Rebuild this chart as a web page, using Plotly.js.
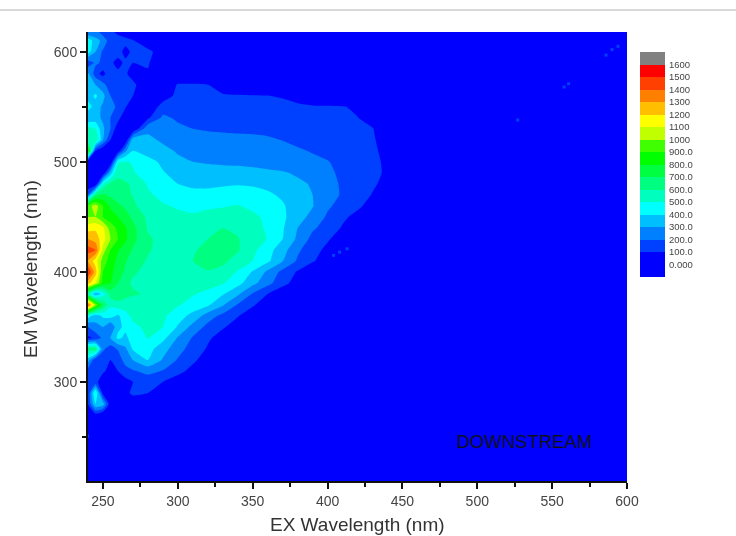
<!DOCTYPE html>
<html><head><meta charset="utf-8">
<script src="https://cdn.plot.ly/plotly-3.0.1.min.js"></script>
<style>html,body{margin:0;padding:0;background:#fff;overflow:hidden}#plot{width:736px;height:536px;filter:blur(0.6px)}</style>
</head><body><div id="plot"></div>
<script>
const exWavelengths=[240,245,250,255,260,265,270,280,290,300,310,320,330,340,350,360,370,380,390,400,410,420,430,440,450,600];
const emWavelengths=[210,240,250,260,270,280,290,300,310,320,330,340,350,360,370,380,390,400,410,420,430,440,450,460,470,480,490,500,510,520,530,540,550,560,570,580,590,600,610,618];
// Intensity read per EM row; columns not listed are the blank (zero) part of the map.
const intensityRows=[
[0],
[0],
[110,40],
[80],
[80,60],
[100,400,350,30,10,30,50,10],
[100,520,60,30,40,80,115,100,30],
[150,120,60,50,50,70,100,140,100,50],
[150,110,110,80,100,150,190,230,195,130,70],
[350,120,130,100,130,250,300,400,290,190,120,50],
[650,650,220,150,210,280,410,440,340,240,155,90,30],
[80,120,230,300,420,380,440,505,430,290,190,115,60,10],
[200,280,300,200,380,420,480,520,500,390,265,170,110,60,10],
[450,330,420,440,380,470,520,540,520,440,370,250,170,105,50],
[1400,1000,700,520,560,540,550,560,530,510,455,415,310,190,110,50],
[600,300,450,650,680,640,610,590,560,530,510,470,410,320,190,100,40],
[1250,1100,850,800,700,620,590,570,570,580,570,550,510,435,330,235,130,60,10],
[1500,1250,900,820,760,680,610,580,575,575,585,595,570,490,390,280,170,90,30],
[1300,1150,950,860,770,710,650,590,570,570,600,630,620,565,500,420,305,185,110,50],
[1450,1400,1050,900,810,750,690,610,570,570,590,625,640,610,525,440,340,220,130,80,20],
[1300,1250,1150,1000,900,820,730,615,570,560,575,600,625,605,560,495,400,280,170,110,55],
[1150,1180,1120,950,880,810,730,590,560,555,565,585,600,585,550,480,410,300,215,160,90,30],
[1000,1000,900,850,800,740,680,580,540,520,510,520,530,535,520,480,420,340,270,185,120,70,20],
[950,1050,900,780,720,680,620,545,510,490,480,490,495,505,480,440,410,355,305,215,165,120,60],
[200,650,720,680,650,620,595,515,475,430,415,420,430,435,430,415,385,340,300,235,190,145,95,40],
[0,0,500,620,610,610,590,490,440,400,390,385,390,395,390,375,350,320,290,225,190,155,115,70],
[0,0,0,350,590,560,510,450,405,375,350,340,335,335,330,320,310,285,250,215,185,160,125,85],
[0,0,0,0,480,510,490,425,385,320,300,290,285,280,270,260,245,230,215,205,170,150,125,80],
[900,100,0,0,30,280,400,370,325,290,275,265,255,250,240,230,220,208,195,170,150,135,115,75],
[500,600,300,100,0,0,360,320,285,255,240,230,225,220,215,210,198,185,165,140,130,120,108,70],
[550,500,320,200,30,0,0,280,260,220,200,192,188,185,185,180,175,170,155,140,125,115,105,30],
[300,340,280,200,140,20,0,80,220,185,170,165,160,160,155,150,145,140,130,125,115,102,60],
[450,350,280,250,170,110,20,0,150,155,155,150,145,140,140,135,130,120,115,110,105,85,50],
[350,420,330,200,160,130,100,0,40,130,130,120,115,110,105,102,90,60],
[400,300,240,130,180,130,120,30,0,110,110,102,40],
[320,150,60,190,120,110,70,90],
[130,220,180,120,70,120,100,110,20],
[450,300,180,130,140,70,120,130,40],
[480,330,280,130,120,130,110,20],
[200,250,140,110,90,50]
];
const spotX=[404,408,413,527,558,561,586,590,594];
const spotY=[415,418,421,538,568,571,597,602,605];
const levelLabels=["0.000","100.0","200.0","300.0","400.0","500.0","600.0","700.0","800.0","900.0","1000","1100","1200","1300","1400","1500","1600"];
const levelValues=[0,100,200,300,400,500,600,700,800,900,1000,1100,1200,1300,1400,1500,1600];
const bandCenters=[-50,50,150,250,350,450,550,650,750,850,950,1050,1150,1250,1350,1450,1550,1650];
const bandColors=["#0000ff","#0000ff","#0040ff","#0080ff","#00bfff","#00ffff","#00ffbf","#00ff80","#00ff40","#00ff00","#40ff00","#bfff00","#ffff00","#ffbf00","#ff8000","#ff4000","#ff0000","#808080"];
const xTicks=[250,300,350,400,450,500,550,600];
const yTicks=[300,400,500,600];

const z=intensityRows.map(r=>exWavelengths.map((_,i)=>i<r.length?r[i]:0));
const colorscale=bandColors.map((c,i)=>[i/(bandColors.length-1),c]);
const W=736,H=536,L=88,R=627,T=32,B=481,pw=W-L,ph=B-T;
const px=p=>(p-L)/pw, py=p=>(B-p)/ph;
const font='Liberation Sans, Arial, sans-serif';

Plotly.newPlot('plot',[{
  type:'contour',x:exWavelengths,y:emWavelengths,z:z,xaxis:'x',yaxis:'y',
  colorscale:colorscale,autocontour:false,showscale:false,
  contours:{start:0,end:1600,size:100,coloring:'fill',showlines:false},
  line:{width:0,smoothing:0.5},hoverinfo:'skip'
},{
  type:'scatter',mode:'markers',x:spotX,y:spotY,xaxis:'x',yaxis:'y',showlegend:false,hoverinfo:'skip',
  marker:{symbol:'square',size:3,color:'#0040ff'}
},{
  type:'heatmap',x:[0],y:bandCenters,z:bandCenters.map((_,i)=>[i]),xaxis:'x2',yaxis:'y2',
  colorscale:colorscale,zmin:0,zmax:bandColors.length-1,showscale:false,hoverinfo:'skip'
}],{
  width:W,height:H,autosize:false,paper_bgcolor:'#fff',plot_bgcolor:'#0000ff',showlegend:false,
  margin:{l:L,r:0,t:T,b:H-B,pad:0},
  font:{family:font,color:'#333'},
  xaxis:{domain:[0,px(R)],range:[240,600],tickmode:'array',tickvals:xTicks,ticks:'outside',ticklen:6,tickwidth:2,tickcolor:'#111',
    minor:{dtick:25,ticks:'outside',ticklen:4,tickwidth:2,tickcolor:'#111',showgrid:false},
    showgrid:false,zeroline:false,showline:true,linecolor:'#111',linewidth:2,tickfont:{size:14,color:'#444'}},
  yaxis:{domain:[0,1],range:[210,618],tickmode:'array',tickvals:yTicks,ticks:'outside',ticklen:6,tickwidth:2,tickcolor:'#111',
    minor:{dtick:50,ticks:'outside',ticklen:4,tickwidth:2,tickcolor:'#111',showgrid:false},
    showgrid:false,zeroline:false,showline:true,linecolor:'#111',linewidth:2,tickfont:{size:14,color:'#444'}},
  xaxis2:{domain:[px(640),px(665)],anchor:'y2',range:[-0.5,0.5],visible:false,fixedrange:true},
  yaxis2:{domain:[py(277),py(52)],anchor:'x2',side:'right',range:[-100,1700],tickmode:'array',tickvals:levelValues,ticktext:levelLabels,
    ticks:'',ticklabelstandoff:3,showgrid:false,zeroline:false,showline:false,tickfont:{size:9.5,color:'#444'},fixedrange:true},
  annotations:[
    {x:531,y:246,xref:'x',yref:'y',text:'DOWNSTREAM',showarrow:false,font:{size:18.5,color:'#111'}},
    {x:px(357),y:py(524.5),xref:'paper',yref:'paper',xanchor:'center',yanchor:'middle',text:'EX Wavelength (nm)',showarrow:false,font:{size:19,color:'#333'}},
    {x:px(30),y:py(269),xref:'paper',yref:'paper',xanchor:'center',yanchor:'middle',text:'EM Wavelength (nm)',textangle:-90,showarrow:false,font:{size:19,color:'#333'}}
  ],
  shapes:[{type:'line',xref:'paper',yref:'paper',x0:px(0),x1:px(W),y0:py(10),y1:py(10),line:{color:'#cccccc',width:1.5}}]
},{displayModeBar:false,staticPlot:true});
</script></body></html>
